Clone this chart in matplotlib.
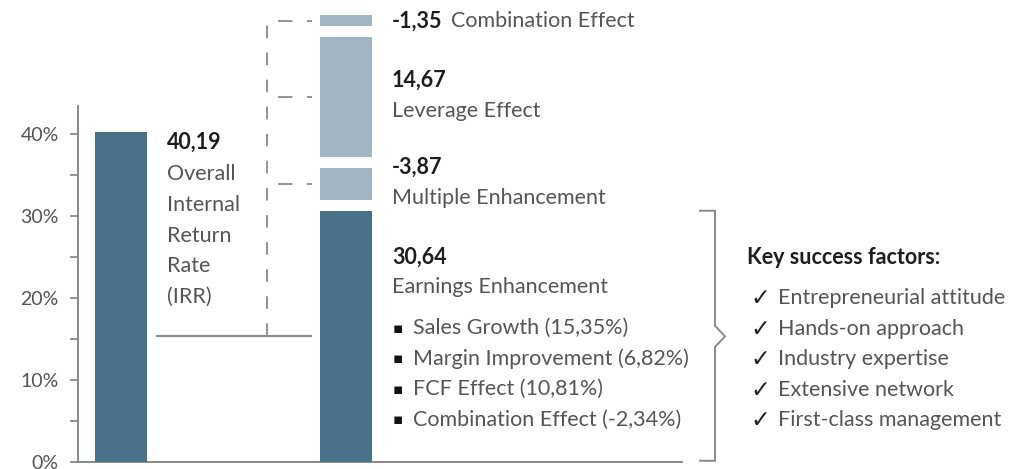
import matplotlib
matplotlib.use("Agg")
import matplotlib.pyplot as plt
from matplotlib.ticker import FixedLocator, FuncFormatter

# ---- data ----
irr_value = 40.19
segment_names = ["Earnings Enhancement", "Multiple Enhancement", "Leverage Effect", "Combination Effect"]
segment_values = [30.64, -3.87, 14.67, -1.35]
earnings_items = ["Sales Growth (15,35%)", "Margin Improvement (6,82%)",
                  "FCF Effect (10,81%)", "Combination Effect (-2,34%)"]
success_factors = ["Entrepreneurial attitude", "Hands-on approach", "Industry expertise",
                   "Extensive network", "First-class management"]
y_ticks = [0, 10, 20, 30, 40]
y_minor_ticks = [5, 15, 25, 35]

# ---- style ----
DARK = "#48728a"
LIGHT = "#a2b5c5"
GREY = "#8a8a8a"
TXT = "#555555"
BOLD = "#1e1e1e"
FONT = ["Lato", "DejaVu Sans"]
plt.rcParams["font.family"] = FONT

W, H = 1015, 469
PX_PER_UNIT = 225.0   # horizontal pixels per category
X0_PX = 121.0          # centre of first bar (px)
BASE_PX = 462.0        # y pixel of 0 %
PX_PER_PCT = 8.2


def X(px):
    return (px - X0_PX) / PX_PER_UNIT


def Y(py):
    return (BASE_PX - py) / PX_PER_PCT


fig = plt.figure(figsize=(W / 100, H / 100), dpi=100)
ax = fig.add_axes([78 / W, (H - BASE_PX) / H, (W - 78) / W, BASE_PX / H])
ax.set_xlim(X(78), X(W))
ax.set_ylim(0, BASE_PX / PX_PER_PCT)
ax.patch.set_alpha(0)

bw = 52 / PX_PER_UNIT
gap = 1.32

# bar 1: overall IRR
ax.bar(0, irr_value, width=bw, color=DARK, zorder=3)

# bar 2: stacked decomposition with gaps
bottom = 0.0
mids = []
for i, v in enumerate(segment_values):
    h = abs(v)
    ax.bar(1, h, bottom=bottom, width=bw, color=DARK if i == 0 else LIGHT, zorder=3)
    mids.append(bottom + h / 2)
    bottom = bottom + h + gap

# axes styling
for s in ["top", "right"]:
    ax.spines[s].set_visible(False)
ax.spines["left"].set_bounds(0, Y(106))
ax.spines["bottom"].set_bounds(X(78), X(682))
for s in ["left", "bottom"]:
    ax.spines[s].set_color(GREY)
    ax.spines[s].set_linewidth(1.4)
ax.set_xticks([])
ax.yaxis.set_major_locator(FixedLocator(y_ticks))
ax.yaxis.set_minor_locator(FixedLocator(y_minor_ticks))
ax.yaxis.set_major_formatter(FuncFormatter(lambda v, p: f"{int(v)}%"))
ax.tick_params(axis="y", which="both", length=6, width=1.3, color=GREY,
               labelsize=14, labelcolor=TXT, pad=8)

# connector lines
conn_y = segment_values[0] / 2
ax.plot([X(157), X(311)], [conn_y, conn_y], color=GREY, lw=1.5, zorder=2)
ax.plot([X(267), X(267)], [conn_y, mids[3] + 0.6], color=GREY, lw=1.3,
        dashes=(7, 8), zorder=2)
for m in mids[1:]:
    ax.plot([X(278), X(312)], [m, m], color=GREY, lw=1.3, dashes=(8, 8), zorder=2)

# bracket
e_top = segment_values[0]
mid = e_top / 2
bx = X(715)
ax.plot([X(700), bx, bx, X(725), bx, bx, X(700)],
        [e_top, e_top, mid + 1.3, mid, mid - 1.3, 0.15, 0.15],
        color=GREY, lw=1.4, zorder=2, solid_joinstyle="miter", clip_on=False)

fs = 15.5
# IRR label
ax.text(X(167), Y(142), "40,19", fontsize=fs, fontweight="bold", color=BOLD, va="center", ha="left")
for k, line in enumerate(["Overall", "Internal", "Return", "Rate", "(IRR)"]):
    ax.text(X(167), Y(174 + 30.8 * k), line, fontsize=fs, color=TXT, va="center", ha="left")

# segment labels
tx = X(392)
ax.text(tx, Y(21), "-1,35", fontsize=fs, fontweight="bold", color=BOLD, va="center", ha="left")
ax.text(X(451), Y(21), segment_names[3], fontsize=fs, color=TXT, va="center", ha="left")
ax.text(tx, Y(80), "14,67", fontsize=fs, fontweight="bold", color=BOLD, va="center", ha="left")
ax.text(tx, Y(111), segment_names[2], fontsize=fs, color=TXT, va="center", ha="left")
ax.text(tx, Y(167), "-3,87", fontsize=fs, fontweight="bold", color=BOLD, va="center", ha="left")
ax.text(tx, Y(198), segment_names[1], fontsize=fs, color=TXT, va="center", ha="left")
ax.text(tx, Y(257), "30,64", fontsize=fs, fontweight="bold", color=BOLD, va="center", ha="left")
ax.text(tx, Y(287), segment_names[0], fontsize=fs, color=TXT, va="center", ha="left")
for k, item in enumerate(earnings_items):
    yy = Y(328 + 30.6 * k)
    ax.text(X(398), yy, "\u25aa", fontsize=11, color="#111111", va="center", ha="center",
            family=["DejaVu Sans"])
    ax.text(X(413), yy, item, fontsize=fs, color=TXT, va="center", ha="left")

# key success factors
ax.text(X(747), Y(257), "Key success factors:", fontsize=fs, fontweight="bold",
        color=BOLD, va="center", ha="left")
for k, f in enumerate(success_factors):
    yy = Y(298 + 30.6 * k)
    ax.text(X(760), yy, "\u2713", fontsize=17, color="#222222", va="center", ha="center",
            family=["DejaVu Sans"])
    ax.text(X(778), yy, f, fontsize=fs, color=TXT, va="center", ha="left")

fig.savefig("out.png", dpi=100)
